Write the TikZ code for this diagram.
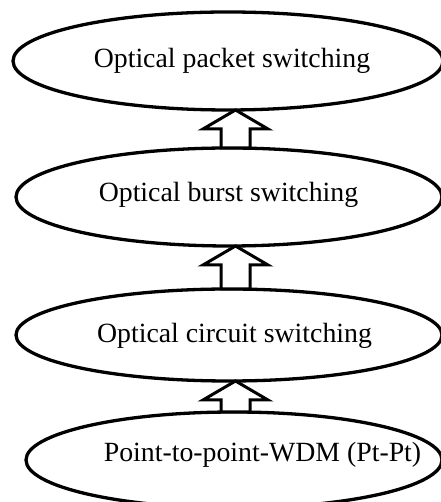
\documentclass[tikz,border=0pt]{standalone}
\usepackage{fontspec}
\setmainfont{Liberation Serif}
\usetikzlibrary{shapes.geometric,calc}
\begin{document}
\begin{tikzpicture}[x=1pt,y=1pt,
  level/.style={draw, ellipse, line width=3.3pt, inner sep=0pt, outer sep=0pt},
  lbl/.style={anchor=base, inner sep=0pt, font=\fontsize{27.8}{33}\selectfont},
  hollow/.style={draw, fill=white, line width=3pt, line join=miter}]
  \useasboundingbox (0,0) rectangle (440,502);

  % switching levels, bottom to top
  \node[level, minimum width=416pt, minimum height=96pt] (e4) at (234,42) {};
  \node[level, minimum width=426pt, minimum height=92pt] (e3) at (229,167) {};
  \node[level, minimum width=426pt, minimum height=98pt] (e2) at (229,305) {};
  \node[level, minimum width=430pt, minimum height=98pt] (e1) at (228,441) {};

  \node[lbl] (t1) at (232,434) {Optical packet switching};
  \node[lbl] (t2) at (228.5,300) {Optical burst switching};
  \node[lbl] (t3) at (234.5,159) {Optical circuit switching};
  \node[lbl] (t4) at (262.5,40) {Point-to-point-WDM (Pt-Pt)};

  % hollow block arrows between levels
  \coordinate (ax) at (235.5,0);
  \foreach \up/\dn in {e1/e2, e2/e3, e3/e4} {
    \coordinate (tip) at (ax |- \up.south);
    \coordinate (bot) at (ax |- \dn.north);
    \draw[hollow] (tip) -- ($(tip)+(32.5,-19)$) -- ($(tip)+(14.5,-19)$)
      -- ($(bot)+(14.5,0)$) -- ($(bot)+(-14.5,0)$) -- ($(tip)+(-14.5,-19)$)
      -- ($(tip)+(-32.5,-19)$) -- cycle;
  }
\end{tikzpicture}
\end{document}
